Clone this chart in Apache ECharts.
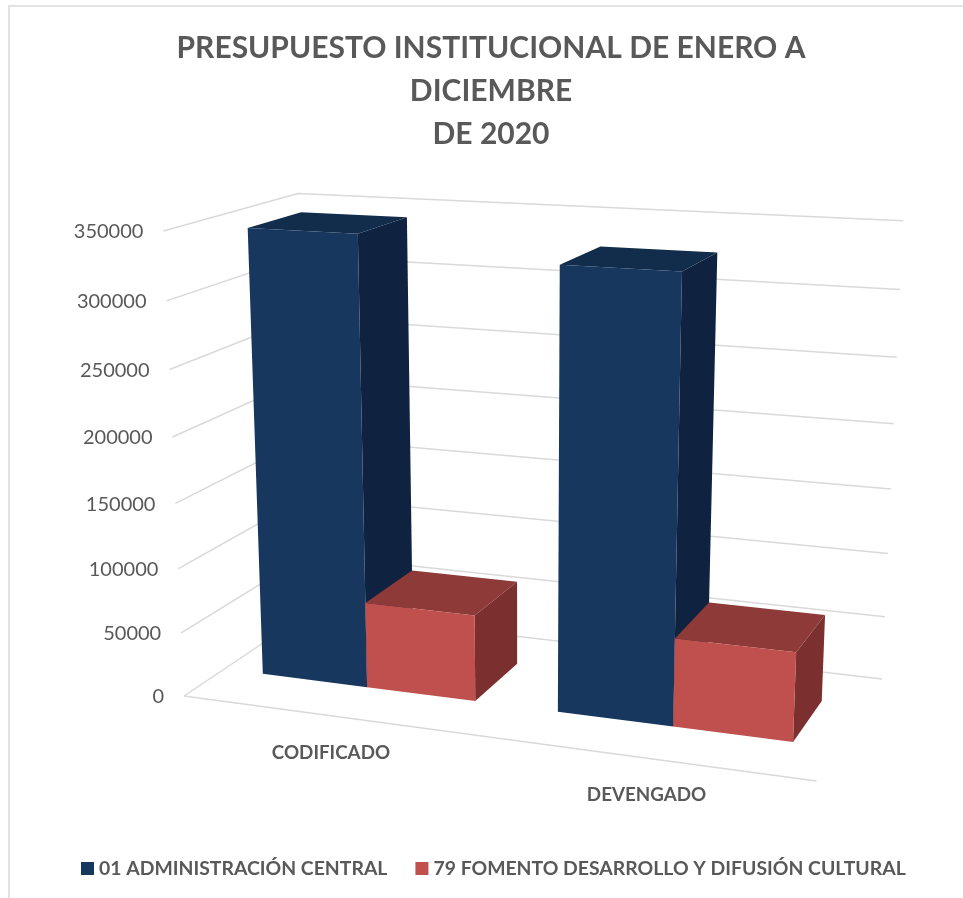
<!DOCTYPE html>
<html>
<head>
<meta charset="utf-8">
<style>
  html, body { margin: 0; padding: 0; background: #fff; }
  #main { width: 963px; height: 898px; }
</style>
</head>
<body>
<div id="main"></div>
<script src="https://cdn.jsdelivr.net/npm/echarts@6/dist/echarts.min.js"></script>
<script>
// data
let categories = ['CODIFICADO', 'DEVENGADO']
let seriesNames = ['01 ADMINISTRACIÓN CENTRAL', '79 FOMENTO DESARROLLO Y DIFUSIÓN CULTURAL']
let adminValues = [344800, 330300]
let fomentoValues = [67000, 67000]
let yTicks = [0, 50000, 100000, 150000, 200000, 250000, 300000, 350000]

const FONT = 'Lato, "Noto Sans", sans-serif'
const TEXT = '#595959'
const GRID = '#D9D9D9'

// camera: floor corners on screen (front left, front right, back right, back left),
// the point where verticals meet, and the screen y of the top of the front left edge
const floor = [[184, 696], [816.5, 781], [882, 679], [309.5, 612]]
const vanish = [525, 8400]
const topY = 231

function makeProjection() {
  let [p0, p1, p2, p3] = floor
  let dx1 = p1[0] - p2[0], dx2 = p3[0] - p2[0], sx = p0[0] - p1[0] + p2[0] - p3[0]
  let dy1 = p1[1] - p2[1], dy2 = p3[1] - p2[1], sy = p0[1] - p1[1] + p2[1] - p3[1]
  let det = dx1 * dy2 - dx2 * dy1
  let g = (sx * dy2 - dx2 * sy) / det
  let h = (dx1 * sy - sx * dy1) / det
  let a = p1[0] - p0[0] + g * p1[0]
  let b = p3[0] - p0[0] + h * p3[0]
  let d = p1[1] - p0[1] + g * p1[1]
  let e = p3[1] - p0[1] + h * p3[1]
  let k = (topY - p0[1]) / (vanish[1] - topY)
  // u along the categories, v into the depth, y up the value axis (all 0..1)
  return function (u, v, y) {
    let w = g * u + h * v + 1 + k * y
    return [
      (a * u + b * v + p0[0] + k * y * vanish[0]) / w,
      (d * u + e * v + p0[1] + k * y * vanish[1]) / w
    ]
  }
}
const project = makeProjection()

// value -> 0..1 through the axis scale
function heightOf(api, cs, val) {
  return (cs.y + cs.height - api.coord([0, val])[1]) / cs.height
}

function renderGrid(params, api) {
  let cs = params.coordSys
  let val = api.value(1)
  let y = heightOf(api, cs, val)
  let front = project(0, 0, y)
  let pts = [front, project(0, 1, y), project(1, 1, y)]
  let children = [{
    type: 'polyline',
    shape: { points: pts },
    style: { stroke: GRID, lineWidth: 1.5, fill: null }
  }, {
    type: 'text',
    style: {
      text: String(val),
      x: front[0] - 20,
      y: front[1] + 1,
      align: 'right',
      verticalAlign: 'middle',
      fill: TEXT,
      fontFamily: FONT,
      fontSize: 20
    }
  }]
  if (val === 0) {
    children.push({
      type: 'line',
      shape: { x1: front[0], y1: front[1], x2: project(1, 0, 0)[0], y2: project(1, 0, 0)[1] },
      style: { stroke: GRID, lineWidth: 1.5 }
    })
  }
  return { type: 'group', children: children }
}

function renderCategory(params, api) {
  let cs = params.coordSys
  let u = (api.coord([api.value(0), 0])[0] - cs.x) / cs.width
  let p = project(u, 0, 0)
  return {
    type: 'text',
    style: {
      text: categories[api.value(0)],
      x: p[0] + 1,
      y: p[1] + 37,
      align: 'center',
      verticalAlign: 'middle',
      fill: TEXT,
      fontFamily: FONT,
      fontWeight: 'bold',
      fontSize: 18.8
    }
  }
}

// one 3d bar; side = 0 for the left bar of the cluster, 1 for the right one
function barRenderer(side, colors) {
  return function (params, api) {
    let cs = params.coordSys
    let c = api.coord([api.value(0), 0])[0]
    let band = api.size([1, 0])[0]
    let u0 = (c - cs.x) / cs.width + 0.001 + (side - 1) * 0.365 * band / cs.width
    let u1 = u0 + 0.365 * band / cs.width
    let v0 = 0.3, v1 = 0.71
    let y = heightOf(api, cs, api.value(1))
    let face = (pts, fill) => ({
      type: 'polygon',
      shape: { points: pts },
      style: { fill: fill }
    })
    return {
      type: 'group',
      children: [
        face([project(u1, v0, 0), project(u1, v1, 0), project(u1, v1, y), project(u1, v0, y)], colors.side),
        face([project(u0, v0, y), project(u1, v0, y), project(u1, v1, y), project(u0, v1, y)], colors.top),
        face([project(u0, v0, 0), project(u1, v0, 0), project(u1, v0, y), project(u0, v0, y)], colors.front)
      ]
    }
  }
}

let chart = echarts.init(document.getElementById('main'))
chart.setOption({
  animation: false,
  backgroundColor: '#fff',
  title: {
    text: 'PRESUPUESTO INSTITUCIONAL DE ENERO A\nDICIEMBRE\nDE 2020',
    left: 486,
    top: 22,
    textAlign: 'center',
    textStyle: {
      color: TEXT,
      fontFamily: FONT,
      fontWeight: 'bold',
      fontSize: 30,
      lineHeight: 43
    }
  },
  legend: {
    left: 76,
    top: 854,
    itemWidth: 13,
    itemHeight: 13,
    itemGap: 28,
    icon: 'rect',
    data: seriesNames,
    textStyle: {
      color: TEXT,
      fontFamily: FONT,
      fontWeight: 'bold',
      fontSize: 19.4
    }
  },
  grid: { left: 0, right: 0, top: 0, bottom: 0 },
  xAxis: { type: 'category', data: categories, show: false },
  yAxis: { type: 'value', min: 0, max: 350000, interval: 50000, show: false },
  graphic: [{
    type: 'polyline',
    silent: true,
    shape: { points: [[9, 898], [9, 6], [963, 6]] },
    style: { stroke: GRID, lineWidth: 1.5, fill: null }
  }],
  series: [{
    type: 'custom',
    silent: true,
    renderItem: renderGrid,
    data: yTicks.map(v => [0, v])
  }, {
    type: 'custom',
    silent: true,
    renderItem: renderCategory,
    data: categories.map((c, i) => [i, 0])
  }, {
    type: 'custom',
    name: seriesNames[0],
    silent: true,
    itemStyle: { color: '#17375E' },
    renderItem: barRenderer(0, { front: '#17375E', top: '#122C4B', side: '#0F2340' }),
    data: adminValues.map((v, i) => [i, v])
  }, {
    type: 'custom',
    name: seriesNames[1],
    silent: true,
    itemStyle: { color: '#C0504D' },
    renderItem: barRenderer(1, { front: '#C0504D', top: '#8E3A38', side: '#7B2F2E' }),
    data: fomentoValues.map((v, i) => [i, v])
  }]
})
</script>
</body>
</html>
